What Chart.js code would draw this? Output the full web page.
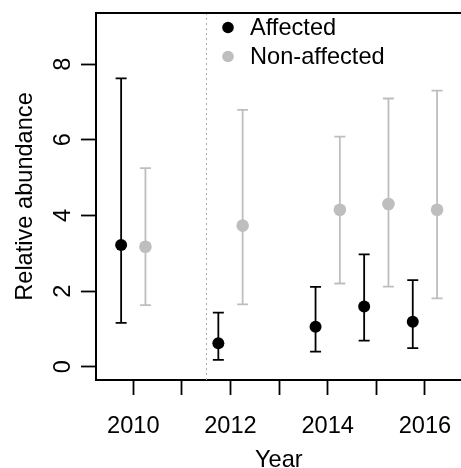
<!DOCTYPE html>
<html><head><meta charset="utf-8">
<script src="https://cdn.jsdelivr.net/npm/chart.js@4/dist/chart.umd.min.js"></script>
<style>html,body{margin:0;padding:0;background:#fff;overflow:hidden;width:461px;height:468px}</style>
</head><body>
<canvas id="c" width="468" height="468"></canvas>
<script>
// ---- data ----
const years = [2010, 2012, 2014, 2015, 2016];
const affected   = [3.22, 0.62, 1.06, 1.59, 1.19];
const affectedLo = [1.16, 0.18, 0.40, 0.69, 0.49];
const affectedHi = [7.62, 1.43, 2.11, 2.97, 2.29];
const nonAffected   = [3.17, 3.73, 4.15, 4.30, 4.15];
const nonAffectedLo = [1.63, 1.65, 2.20, 2.12, 1.81];
const nonAffectedHi = [5.25, 6.79, 6.08, 7.09, 7.30];
const seriesNames = ['Affected', 'Non-affected'];
const xTicks = [2010, 2011, 2012, 2013, 2014, 2015, 2016];
const xLabelYears = [2010, 2012, 2014, 2016];
const yTicks = [0, 2, 4, 6, 8];
const eventYear = 2011.5;
const dodge = 0.25;

const FONT = "'Liberation Sans', Arial, sans-serif";
const FS = 23.6;
const BLACK = '#000000';
const GRAY = '#bebebe';

function build(vals, lo, hi, off) {
  return years.map((yr, i) => ({x: yr + off, y: vals[i], lo: lo[i], hi: hi[i]}));
}
function noPad(s) { s.paddingLeft = 0; s.paddingRight = 0; s.paddingTop = 0; s.paddingBottom = 0; }

const errPlugin = {
  id: 'errbars',
  beforeDatasetsDraw(chart) {
    const {ctx, chartArea, scales: {x, y}} = chart;
    ctx.save();
    const px = Math.round(x.getPixelForValue(eventYear)) + 0.5;
    ctx.strokeStyle = '#aaaaaa';
    ctx.lineWidth = 1;
    ctx.setLineDash([2, 3]);
    ctx.beginPath();
    ctx.moveTo(px, chartArea.top);
    ctx.lineTo(px, chartArea.bottom);
    ctx.stroke();
    ctx.setLineDash([]);
    chart.data.datasets.forEach(ds => {
      ctx.strokeStyle = ds.errColor;
      ctx.lineWidth = 1.8;
      ds.data.forEach(p => {
        const cx = x.getPixelForValue(p.x);
        const y1 = y.getPixelForValue(p.lo);
        const y2 = y.getPixelForValue(p.hi);
        ctx.beginPath();
        ctx.moveTo(cx, y1); ctx.lineTo(cx, y2);
        ctx.moveTo(cx - 5.5, y1); ctx.lineTo(cx + 5.5, y1);
        ctx.moveTo(cx - 5.5, y2); ctx.lineTo(cx + 5.5, y2);
        ctx.stroke();
      });
    });
    ctx.restore();
  },
  afterDraw(chart) {
    const {ctx, chartArea} = chart;
    ctx.save();
    ctx.strokeStyle = BLACK;
    ctx.lineWidth = 2;
    ctx.beginPath();
    ctx.moveTo(chartArea.left - 1, chartArea.top);
    ctx.lineTo(chartArea.right + 2, chartArea.top);
    ctx.stroke();
    const lx = 228, ly = 27.5, gap = 29;
    ctx.font = FS + 'px ' + FONT;
    ctx.textBaseline = 'middle';
    ctx.textAlign = 'left';
    chart.data.datasets.forEach((ds, i) => {
      ctx.fillStyle = ds.backgroundColor;
      ctx.beginPath();
      ctx.arc(lx, ly + i * gap, 5.8, 0, Math.PI * 2);
      ctx.fill();
      ctx.fillStyle = BLACK;
      ctx.fillText(ds.label, 250, ly + i * gap + 1);
    });
    ctx.restore();
  }
};

new Chart(document.getElementById('c'), {
  type: 'scatter',
  data: {
    datasets: [
      {label: seriesNames[0], data: build(affected, affectedLo, affectedHi, -dodge),
       backgroundColor: BLACK, borderWidth: 0, pointRadius: 6, errColor: BLACK},
      {label: seriesNames[1], data: build(nonAffected, nonAffectedLo, nonAffectedHi, dodge),
       backgroundColor: GRAY, borderWidth: 0, pointRadius: 6.3, errColor: GRAY}
    ]
  },
  options: {
    responsive: false,
    animation: false,
    events: [],
    layout: {padding: {top: 13, right: 0, bottom: 0, left: 0}},
    plugins: {legend: {display: false}, tooltip: {enabled: false}},
    scales: {
      x: {
        type: 'linear', min: 2009.233, max: 2016.757,
        afterBuildTicks: s => { s.ticks = xTicks.map(v => ({value: v})); },
        afterFit: s => { s.height = 88; noPad(s); },
        ticks: {
          callback: v => xLabelYears.includes(v) ? String(v) : '',
          font: {family: FONT, size: FS}, color: BLACK, padding: 17,
          maxRotation: 0, minRotation: 0, autoSkip: false
        },
        grid: {drawOnChartArea: false, drawTicks: true, tickLength: 15, tickColor: BLACK, tickWidth: 1.8},
        border: {display: true, color: BLACK, width: 2},
        title: {display: true, text: 'Year', font: {family: FONT, size: FS}, color: BLACK,
                padding: {top: 0, bottom: -7}}
      },
      y: {
        type: 'linear', min: -0.35, max: 9.35,
        afterBuildTicks: s => { s.ticks = yTicks.map(v => ({value: v})); },
        afterFit: s => { s.width = 96; noPad(s); },
        ticks: {
          font: {family: FONT, size: FS}, color: BLACK, padding: 11,
          minRotation: 90, maxRotation: 90, crossAlign: 'center', autoSkip: false
        },
        grid: {drawOnChartArea: false, drawTicks: true, tickLength: 15, tickColor: BLACK, tickWidth: 1.8},
        border: {display: true, color: BLACK, width: 2},
        title: {display: true, text: 'Relative abundance', font: {family: FONT, size: FS}, color: BLACK,
                padding: {top: 11, bottom: 0}}
      }
    }
  },
  plugins: [errPlugin]
});
</script>
</body></html>
